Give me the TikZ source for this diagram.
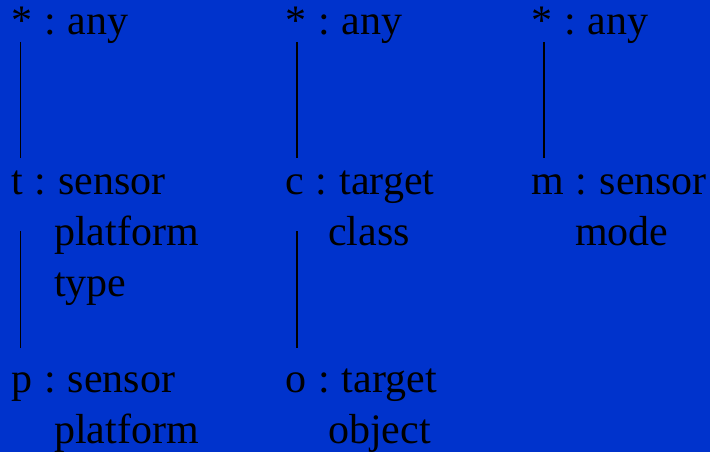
\documentclass[tikz,border=0pt]{standalone}
\usepackage{fontspec}
\setmainfont[WordSpace=1.15]{Liberation Serif}
\frenchspacing
\definecolor{slideblue}{RGB}{0,51,204}
\tikzset{
  lbl/.style={anchor=base west, inner sep=0pt, font=\fontsize{42}{50}\selectfont},
  link/.style={line width=1.8pt}
}
\begin{document}
\begin{tikzpicture}[x=1pt,y=1pt]
  \fill[slideblue] (0,0) rectangle (710,-452);
  % sensor type column
  \node[lbl] (anyT) at (11,-35) {* : any};
  \node[lbl] (tSens) at (11,-194) {t : sensor};
  \node[lbl] (tPlat) at (54,-245) {platform};
  \node[lbl] (tType) at (54,-296) {type};
  \node[lbl] (pSens) at (11,-392) {p : sensor};
  \node[lbl] (pPlat) at (54,-443) {platform};
  \draw[link] ([xshift=9.5pt,yshift=-7pt]anyT.base west) -- ([xshift=9.5pt,yshift=36pt]tSens.base west);
  \draw[link] ([xshift=9.5pt,yshift=-37pt]tSens.base west) -- ([xshift=9.5pt,yshift=44pt]pSens.base west);
  % target column
  \node[lbl] (anyC) at (285,-35) {* : any};
  \node[lbl] (cTarg) at (285,-194) {c : target};
  \node[lbl] (cClass) at (328,-245) {class};
  \node[lbl] (oTarg) at (285,-392) {o : target};
  \node[lbl] (oObj) at (328,-443) {object};
  \draw[link] ([xshift=12pt,yshift=-7pt]anyC.base west) -- ([xshift=12pt,yshift=36pt]cTarg.base west);
  \draw[link] ([xshift=12pt,yshift=-37pt]cTarg.base west) -- ([xshift=12pt,yshift=44pt]oTarg.base west);
  % mode column
  \node[lbl] (anyM) at (531,-35) {* : any};
  \node[lbl] (mSens) at (531,-194) {m : sensor};
  \node[lbl] (mMode) at (575,-245) {mode};
  \draw[link] ([xshift=13pt,yshift=-7pt]anyM.base west) -- ([xshift=13pt,yshift=36pt]mSens.base west);
\end{tikzpicture}
\end{document}
